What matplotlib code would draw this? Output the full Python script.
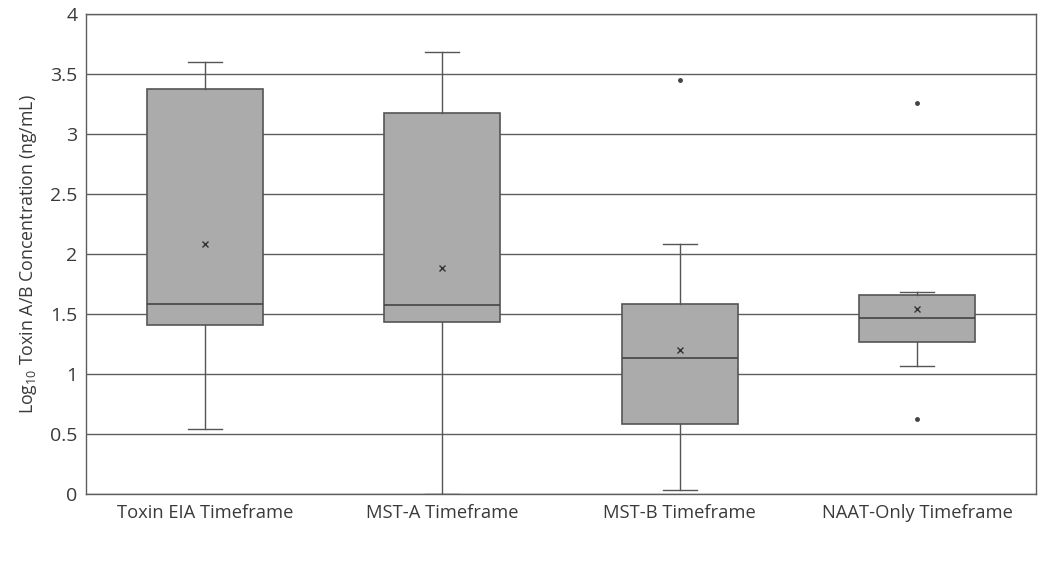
import matplotlib
matplotlib.use("Agg")
import matplotlib.pyplot as plt

plt.rcParams['font.family'] = ['Open Sans', 'DejaVu Sans']
plt.rcParams['mathtext.default'] = 'regular'

categories = ["Toxin EIA Timeframe", "MST-A Timeframe", "MST-B Timeframe", "NAAT-Only Timeframe"]
whisker_low = [0.54, 0.0, 0.03, 1.07]
q1 = [1.41, 1.435, 0.58, 1.265]
median = [1.585, 1.575, 1.135, 1.47]
q3 = [3.375, 3.175, 1.585, 1.655]
whisker_high = [3.60, 3.685, 2.08, 1.68]
means = [2.08, 1.885, 1.20, 1.545]
outliers = [[], [], [3.45], [3.255, 0.625]]
yticks = [0, 0.5, 1, 1.5, 2, 2.5, 3, 3.5, 4]
ytick_labels = ["0", "0.5", "1", "1.5", "2", "2.5", "3", "3.5", "4"]

stats = []
for i, c in enumerate(categories):
    stats.append(dict(label=c, whislo=whisker_low[i], q1=q1[i], med=median[i],
                      q3=q3[i], whishi=whisker_high[i], mean=means[i], fliers=outliers[i]))

fig = plt.figure(figsize=(10.44, 5.69), dpi=100)
ax = fig.add_axes([86/1044, 1 - 494/569, 950/1044, 480/569])

edge = '#555555'
ax.bxp(stats, positions=range(len(categories)), widths=0.49, patch_artist=True,
       showmeans=True, showfliers=True, capwidths=0.145,
       boxprops=dict(facecolor='#ababab', edgecolor=edge, linewidth=1.2),
       medianprops=dict(color='#444444', linewidth=1.2),
       whiskerprops=dict(color=edge, linewidth=1.0),
       capprops=dict(color=edge, linewidth=1.0),
       meanprops=dict(marker='x', markeredgecolor='#333333', markersize=5, markeredgewidth=1.0),
       flierprops=dict(marker='o', markerfacecolor='#444444', markeredgecolor='#444444', markersize=2.5),
       zorder=3)

ax.set_xlim(-0.5, len(categories) - 0.5)
ax.set_ylim(0, 4)
ax.set_yticks(yticks)
ax.set_yticklabels(ytick_labels)
ax.set_xticks(range(len(categories)))
ax.set_xticklabels(categories)
ax.grid(axis='y', color='#5e5e5e', linewidth=1.0, zorder=0)
ax.set_axisbelow(True)
ax.tick_params(axis='x', length=0, labelsize=13.2, colors='#3a3a3a', pad=7)
ax.tick_params(axis='y', length=0, labelsize=14, colors='#3a3a3a', pad=6)
for s in ax.spines.values():
    s.set_color('#5e5e5e')
    s.set_linewidth(1.0)
ax.set_ylabel('Log$_{10}$ Toxin A/B Concentration (ng/mL)', fontsize=12.8, color='#3a3a3a', labelpad=8)

fig.savefig('out.png', dpi=100, facecolor='white')
